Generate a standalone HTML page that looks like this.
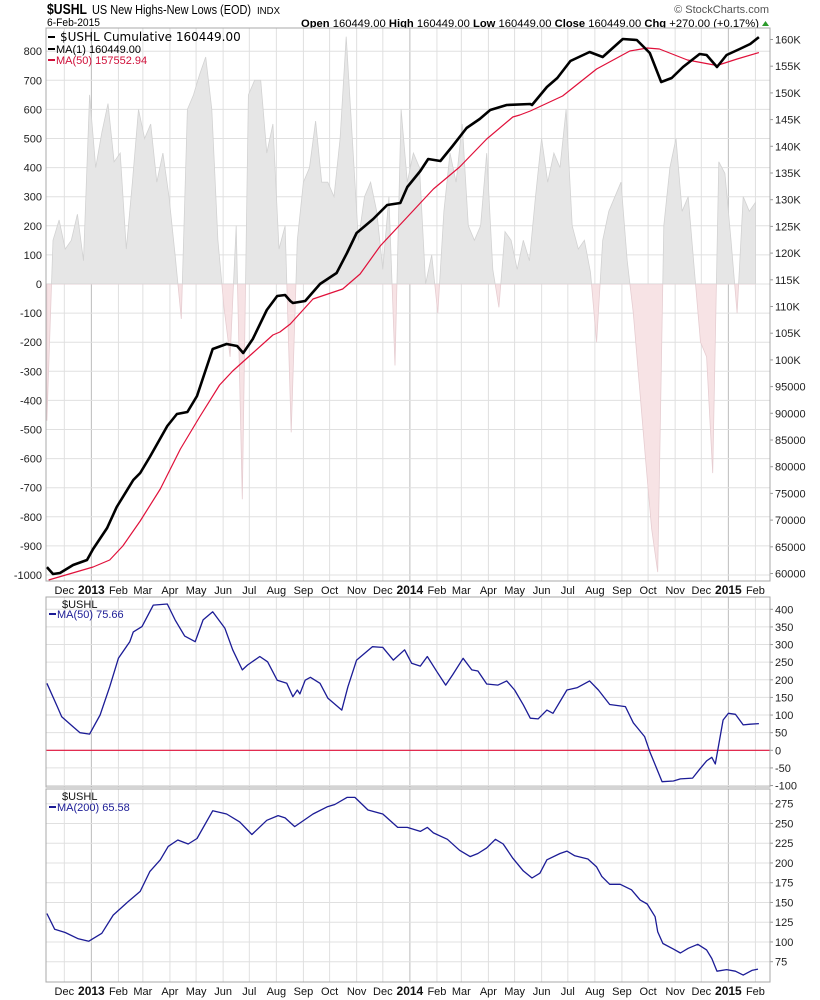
<!DOCTYPE html>
<html><head><meta charset="utf-8"><style>
html,body{margin:0;padding:0;background:#fff;}
svg{display:block;font-family:"Liberation Sans",Arial,sans-serif;}
</style></head><body>
<svg id="chart" width="820" height="1000" viewBox="0 0 820 1000" xmlns="http://www.w3.org/2000/svg">
<g id="header">
<text x="47" y="14" font-size="15" font-weight="bold" textLength="40" lengthAdjust="spacingAndGlyphs">$USHL</text>
<text x="92" y="14" font-size="12.5" textLength="159" lengthAdjust="spacingAndGlyphs">US New Highs-New Lows (EOD)</text>
<text x="257" y="14" font-size="10.5" textLength="23" lengthAdjust="spacingAndGlyphs">INDX</text>
<text x="47" y="26" font-size="11" textLength="53" lengthAdjust="spacingAndGlyphs">6-Feb-2015</text>
<text x="769" y="13" font-size="11" fill="#555" text-anchor="end">© StockCharts.com</text>
<text x="301" y="27" font-size="11" textLength="458" lengthAdjust="spacingAndGlyphs"><tspan font-weight="bold">Open</tspan> 160449.00  <tspan font-weight="bold">High</tspan> 160449.00  <tspan font-weight="bold">Low</tspan> 160449.00  <tspan font-weight="bold">Close</tspan> 160449.00  <tspan font-weight="bold">Chg</tspan> +270.00 (+0.17%)</text>
<polygon points="762,26 769,26 765.5,21" fill="#2a9a2a"/>
</g>
<g id="main"></g>
<g id="p2"></g>
<g id="p3"></g>
</svg>
<script>
// ---- data (day offsets since 2012-11-10) ----
const histWeeks = [-470,150,220,120,150,240,80,650,400,520,620,420,450,120,350,600,500,550,350,450,300,100,-120,600,650,720,780,600,150,-80,-250,200,-740,650,700,700,450,550,120,200,-510,150,350,400,560,350,350,300,500,850,500,150,300,350,250,50,300,-280,600,350,450,400,0,100,-100,250,450,350,550,200,150,200,450,50,-80,180,150,50,150,80,300,500,350,450,400,600,200,120,150,40,-200,150,250,300,350,80,-100,-350,-600,-840,-990,200,400,500,250,300,50,-200,-250,-650,420,380,150,-100,300,250,280];
const cumDays = [1,8,16,31,47,54,70,81,100,108,119,139,150,162,173,191,207,219,226,237,253,265,274,280,283,297,314,333,345,356,375,391,406,414,429,438,452,466,482,497,509,528,555,557,574,586,601,623,638,661,677,692,705,717,730,749,757,769,780,795,807,817];
const cumValues = [61200,59900,60090,61590,62530,64590,68520,72450,77510,78820,81820,87620,89870,90240,93240,102040,102980,102600,101290,103910,109340,111960,112150,111030,110650,111030,114210,116270,120020,123760,126390,129010,129380,132380,135370,137620,137250,140060,143430,145110,146800,147730,147920,147730,151100,152790,155970,157660,156720,160090,159910,157470,152040,152790,154850,157280,157100,154850,157100,158220,159160,160449];
const ma50Days = [3,54,73,88,108,131,154,176,199,214,237,260,268,280,306,340,360,383,414,444,474,505,535,543,555,592,631,669,689,703,735,769,792,817];
const ma50Values = [58780,61215,62530,65150,69830,75820,83310,89310,95300,97920,101290,104660,105220,106720,111400,113280,116090,121330,126760,132000,136120,141370,145490,145860,146610,149420,154480,157850,158410,158220,156160,155130,156350,157553];
const osc50Days = [1,13,18,30,39,50,62,73,83,96,100,110,123,139,148,159,171,180,191,205,214,225,231,245,254,265,276,283,288,291,297,303,314,323,339,346,356,374,386,398,411,419,429,437,448,458,466,478,488,495,505,518,528,537,547,555,564,574,581,597,609,623,633,646,664,673,686,692,706,719,727,741,749,757,763,767,776,782,790,799,807,817];
const osc50Values = [190,124,95,69,50,46,100,180,261,308,336,351,412,415,370,324,308,370,393,346,285,228,242,266,251,199,190,152,171,160,199,207,190,148,114,180,256,294,292,256,285,247,239,266,223,185,214,261,228,225,188,185,197,171,129,91,89,114,105,171,178,197,171,130,124,78,39,-4,-89,-87,-81,-79,-54,-30,-20,-39,86,105,102,72,74,75.66];
const osc200Days = [1,10,22,37,49,64,77,94,108,119,131,140,151,163,173,191,207,222,236,253,266,274,285,306,322,331,345,354,369,386,403,414,429,437,444,460,474,486,495,505,515,524,535,547,557,566,574,589,597,606,621,631,637,646,658,671,681,689,698,701,707,719,727,736,747,757,763,769,780,790,799,809,816];
const osc200Values = [136,116,112,104,101,111,134,151,164,189,204,221,229,224,231,266,262,252,236,254,260,257,246,262,271,274,283,283,267,262,245,245,240,245,238,230,216,208,212,219,230,224,206,190,181,187,204,212,215,209,205,195,183,173,173,166,153,148,132,113,98,91,86,92,97,90,79,63,65,63,58,64,65.58];
const leftTicks = [800,700,600,500,400,300,200,100,0,-100,-200,-300,-400,-500,-600,-700,-800,-900,-1000];
const rightTicks = [160000,155000,150000,145000,140000,135000,130000,125000,120000,115000,110000,105000,100000,95000,90000,85000,80000,75000,70000,65000,60000];
const p2Ticks = [400,350,300,250,200,150,100,50,0,-50,-100];
const p3Ticks = [275,250,225,200,175,150,125,100,75];
const monthNames = ["Jan","Feb","Mar","Apr","May","Jun","Jul","Aug","Sep","Oct","Nov","Dec"];

// ---- scales ----
const NS='http://www.w3.org/2000/svg';
const X0=46, X1=770, PXDAY=0.8726;
const startDate = Date.UTC(2012,10,10);
const xDay = d => X0 + d*PXDAY;
const yLeft = v => 284 - v*0.291;
const yRight = v => 39.5 + (160000-v)/5000*26.7;
const yP2 = v => 750.3 - v*0.3525;
const yP3 = v => 803.7 + (275-v)*0.79;

function mk(tag, attrs, parent){
  const e=document.createElementNS(NS,tag);
  for(const k in attrs) e.setAttribute(k,attrs[k]);
  parent.appendChild(e); return e;
}
function txt(s, attrs, parent){ const e=mk('text',attrs,parent); e.textContent=s; return e; }

const months=[];
for(let y=2012;y<=2015;y++) for(let m=0;m<12;m++){
  const d=(Date.UTC(y,m,1)-startDate)/86400000;
  if(d>0 && xDay(d)<X1-4) months.push({d, y, m});
}

function panel(g, top, bottom, hTicks, yf, labelFmt, nameP){
  const bg=mk('rect',{x:X0,y:top,width:X1-X0,height:bottom-top,fill:'#fff'},g);
  
  
  months.forEach(mo=>{
    const x=xDay(mo.d);
    const l=mk('line',{x1:x,x2:x,y1:top,y2:bottom,stroke:mo.m===0?'#bdbdbd':'#e0e0e0','stroke-width':1},g);
    
    
  });
  hTicks.forEach(v=>{
    const y=yf(v);
    if(y<top-1||y>bottom+1) return;
    const l=mk('line',{x1:X0,x2:X1,y1:y,y2:y,stroke:'#e0e0e0','stroke-width':1},g);
    
    
  });
  if(labelFmt){
    hTicks.forEach(v=>{
      const y=yf(v);
      const t=txt(labelFmt(v),{x:775,y:y+4,'font-size':11,fill:'#222'},g);
      
      
      const tk=mk('line',{x1:X1,x2:X1+3,y1:y,y2:y,stroke:'#999'},g);
      
      
    });
  }
}
function border(g, top, bottom, nameP){
  const r=mk('rect',{x:X0,y:top,width:X1-X0,height:bottom-top,fill:'none',stroke:'#a8a8a8','stroke-width':1},g);
  
  
}
function xLabels(g, y, nameP){
  months.forEach(mo=>{
    const x=xDay(mo.d);
    const isYear=mo.m===0;
    const t=txt(isYear?String(mo.y):monthNames[mo.m],{x:x,y:y,'font-size':isYear?12:11,'font-weight':isYear?'bold':'normal','text-anchor':'middle',fill:'#111'},g);
    
    
  });
}
function line(g, days, vals, yf, color, w, name){
  const d=days.map((dd,i)=>(i?'L':'M')+xDay(dd).toFixed(1)+','+yf(vals[i]).toFixed(1)).join(' ');
  const p=mk('path',{d:d,fill:'none',stroke:color,'stroke-width':w,'stroke-linejoin':'round'},g);
  
  
}

// ---- main panel ----
const gm=document.getElementById('main');
panel(gm,28,581,leftTicks,yLeft,null,'main');
leftTicks.forEach(v=>{
  const y=yLeft(v);
  const t=txt(String(v),{x:42,y:y+4,'font-size':11,'text-anchor':'end',fill:'#222'},gm);
  
  
});
rightTicks.forEach(v=>{
  const y=yRight(v);
  const lab = v>=100000 ? (v/1000)+'K' : String(v);
  const t=txt(lab,{x:775,y:y+4,'font-size':11,fill:'#222'},gm);
  
  
  const tk=mk('line',{x1:X1,x2:X1+3,y1:y,y2:y,stroke:'#999'},gm);
  
  
});
const defs=mk('defs',{},gm);
const cpA=mk('clipPath',{id:'above'},defs); mk('rect',{x:X0,y:28,width:X1-X0,height:yLeft(0)-28},cpA);
const cpB=mk('clipPath',{id:'below'},defs); mk('rect',{x:X0,y:yLeft(0),width:X1-X0,height:581-yLeft(0)},cpB);
let hd='M'+xDay(1)+','+yLeft(0);
histWeeks.forEach((v,i)=>{ hd+=' L'+xDay(1+7*i).toFixed(1)+','+yLeft(v).toFixed(1); });
hd+=' L'+xDay(1+7*(histWeeks.length-1)).toFixed(1)+','+yLeft(0)+' Z';
const hp=mk('path',{d:hd,fill:'#e6e6e6',stroke:'#d2d2d2','stroke-width':0.8,'clip-path':'url(#above)'},gm);


const hn=mk('path',{d:hd,fill:'#f7e3e5',stroke:'#e6cdd1','stroke-width':0.8,'clip-path':'url(#below)'},gm);


line(gm,ma50Days,ma50Values,yRight,'#e0103a',1.2,'ma50-cumulative-line');
line(gm,cumDays,cumValues,yRight,'#000',2.6,'cumulative-line');
border(gm,28,581,'main');
xLabels(gm,594,'main');
const lg=[['$USHL Cumulative 160449.00','#000',41],['MA(1) 160449.00','#000',53],['MA(50) 157552.94','#d0103a',64]];
lg.forEach((e,i)=>{
  const m=mk('line',{x1:48,x2:55,y1:e[2]-4,y2:e[2]-4,stroke:e[1],'stroke-width':2},gm);
  
  
  const t=txt(e[0],{x:i===0?60:56,y:e[2],'font-size':i===0?12:11,fill:e[1],'font-family':i===0?'DejaVu Sans, sans-serif':'Liberation Sans, sans-serif'},gm);
  
  
});

// ---- panel 2 ----
const g2=document.getElementById('p2');
panel(g2,597,787,p2Ticks,yP2,v=>String(v),'ma50');
const zl=mk('line',{x1:X0,x2:X1,y1:yP2(0),y2:yP2(0),stroke:'#e0103a','stroke-width':1.2},g2);


line(g2,osc50Days,osc50Values,yP2,'#1c1c96',1.3,'ma50-line');
border(g2,597,787,'ma50');
let t2=txt('$USHL',{x:62,y:608,'font-size':11,fill:'#111'},g2);


let m2=mk('line',{x1:49,x2:56,y1:614,y2:614,stroke:'#1c1c96','stroke-width':2},g2);


t2=txt('MA(50) 75.66',{x:57,y:618,'font-size':11,fill:'#1c1c96'},g2);



// ---- panel 3 ----
const g3=document.getElementById('p3');
panel(g3,789,982,p3Ticks,yP3,v=>String(v),'ma200');
line(g3,osc200Days,osc200Values,yP3,'#1c1c96',1.3,'ma200-line');
border(g3,789,982,'ma200');
xLabels(g3,995,'bottom');
let t3=txt('$USHL',{x:62,y:800,'font-size':11,fill:'#111'},g3);


let m3=mk('line',{x1:49,x2:56,y1:807,y2:807,stroke:'#1c1c96','stroke-width':2},g3);


t3=txt('MA(200) 65.58',{x:57,y:811,'font-size':11,fill:'#1c1c96'},g3);


</script>
</body></html>
